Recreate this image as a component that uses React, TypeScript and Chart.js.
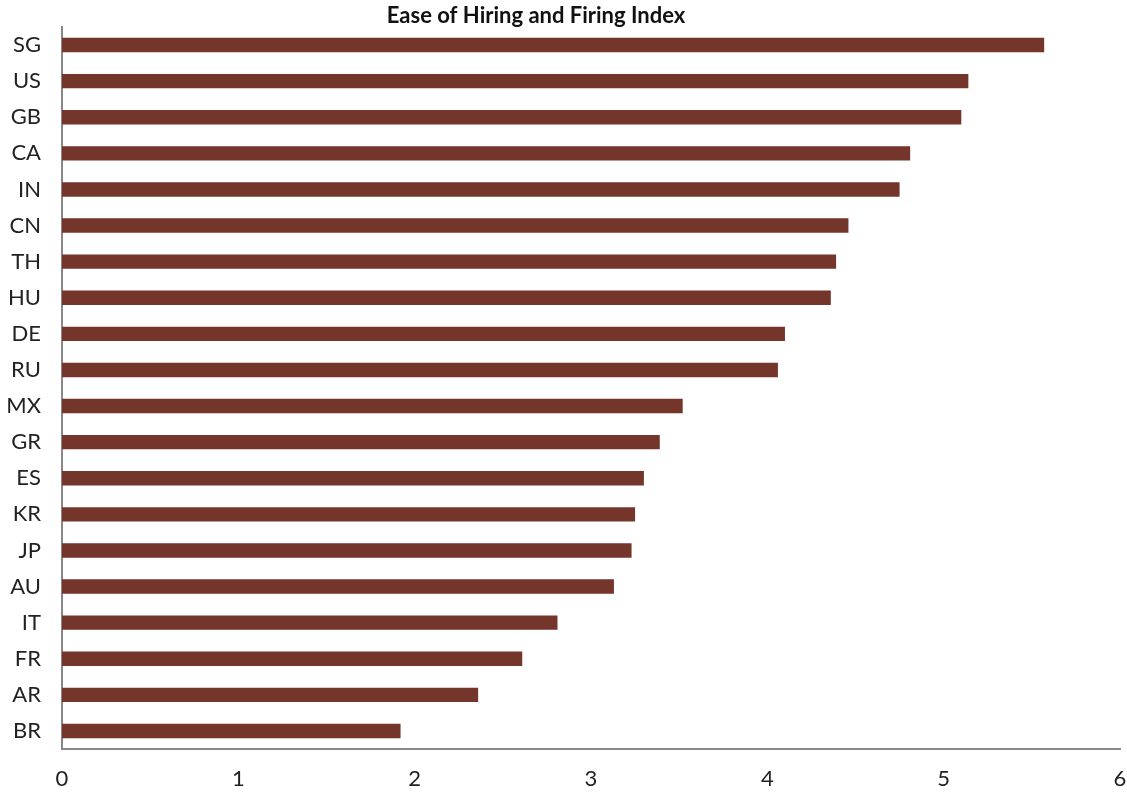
import React, { useEffect, useRef } from "react";
import { Chart, registerables } from "chart.js";

Chart.register(...registerables);

const countries = ["SG", "US", "GB", "CA", "IN", "CN", "TH", "HU", "DE", "RU", "MX", "GR", "ES", "KR", "JP", "AU", "IT", "FR", "AR", "BR"];
const indexValues = [5.57, 5.14, 5.10, 4.81, 4.75, 4.46, 4.39, 4.36, 4.10, 4.06, 3.52, 3.39, 3.30, 3.25, 3.23, 3.13, 2.81, 2.61, 2.36, 1.92];
const xTicks = [0, 1, 2, 3, 4, 5, 6];
const titleText = "Ease of Hiring and Firing Index";

const FONT = "Lato, 'Open Sans', sans-serif";

const titlePlugin = {
  id: "customTitle",
  afterDraw(chart: any) {
    const ctx = chart.ctx;
    ctx.save();
    ctx.font = `bold 22px ${FONT}`;
    ctx.fillStyle = "#111";
    ctx.textAlign = "center";
    ctx.textBaseline = "middle";
    ctx.fillText(titleText, 536, 16);
    ctx.restore();
  },
};

export default function App() {
  const ref = useRef<HTMLCanvasElement>(null);
  useEffect(() => {
    const chart = new Chart(ref.current!, {
      type: "bar",
      data: {
        labels: countries,
        datasets: [
          {
            data: indexValues,
            backgroundColor: "#74352A",
            barPercentage: 0.4,
            categoryPercentage: 1,
          },
        ],
      },
      options: {
        indexAxis: "y",
        animation: false,
        responsive: false,
        layout: { padding: { top: 27, right: 7, left: 0, bottom: 0 } },
        plugins: { legend: { display: false }, title: { display: false }, tooltip: { enabled: false } },
        scales: {
          x: {
            min: 0,
            max: 6,
            afterBuildTicks: (axis: any) => {
              axis.ticks = xTicks.map((v) => ({ value: v }));
            },
            grid: { display: false, drawTicks: false },
            border: { display: true, color: "#888", width: 2 },
            ticks: { color: "#222", font: { family: FONT, size: 22 }, padding: 17 },
            afterFit: (axis: any) => {
              axis.height = 43;
              axis.paddingLeft = 0;
              axis.paddingRight = 0;
            },
          },
          y: {
            grid: { display: false, drawTicks: false },
            border: { display: true, color: "#888", width: 2 },
            ticks: { color: "#222", font: { family: FONT, size: 22 }, padding: 21, autoSkip: false },
            afterFit: (axis: any) => {
              axis.width = 62;
              axis.paddingTop = 0;
              axis.paddingBottom = 0;
            },
          },
        },
      },
      plugins: [titlePlugin],
    });
    return () => chart.destroy();
  }, []);
  return (
    <canvas
      ref={ref}
      width={1127}
      height={792}
      style={{ position: "absolute", left: 0, top: 0, width: 1127, height: 792 }}
    />
  );
}
